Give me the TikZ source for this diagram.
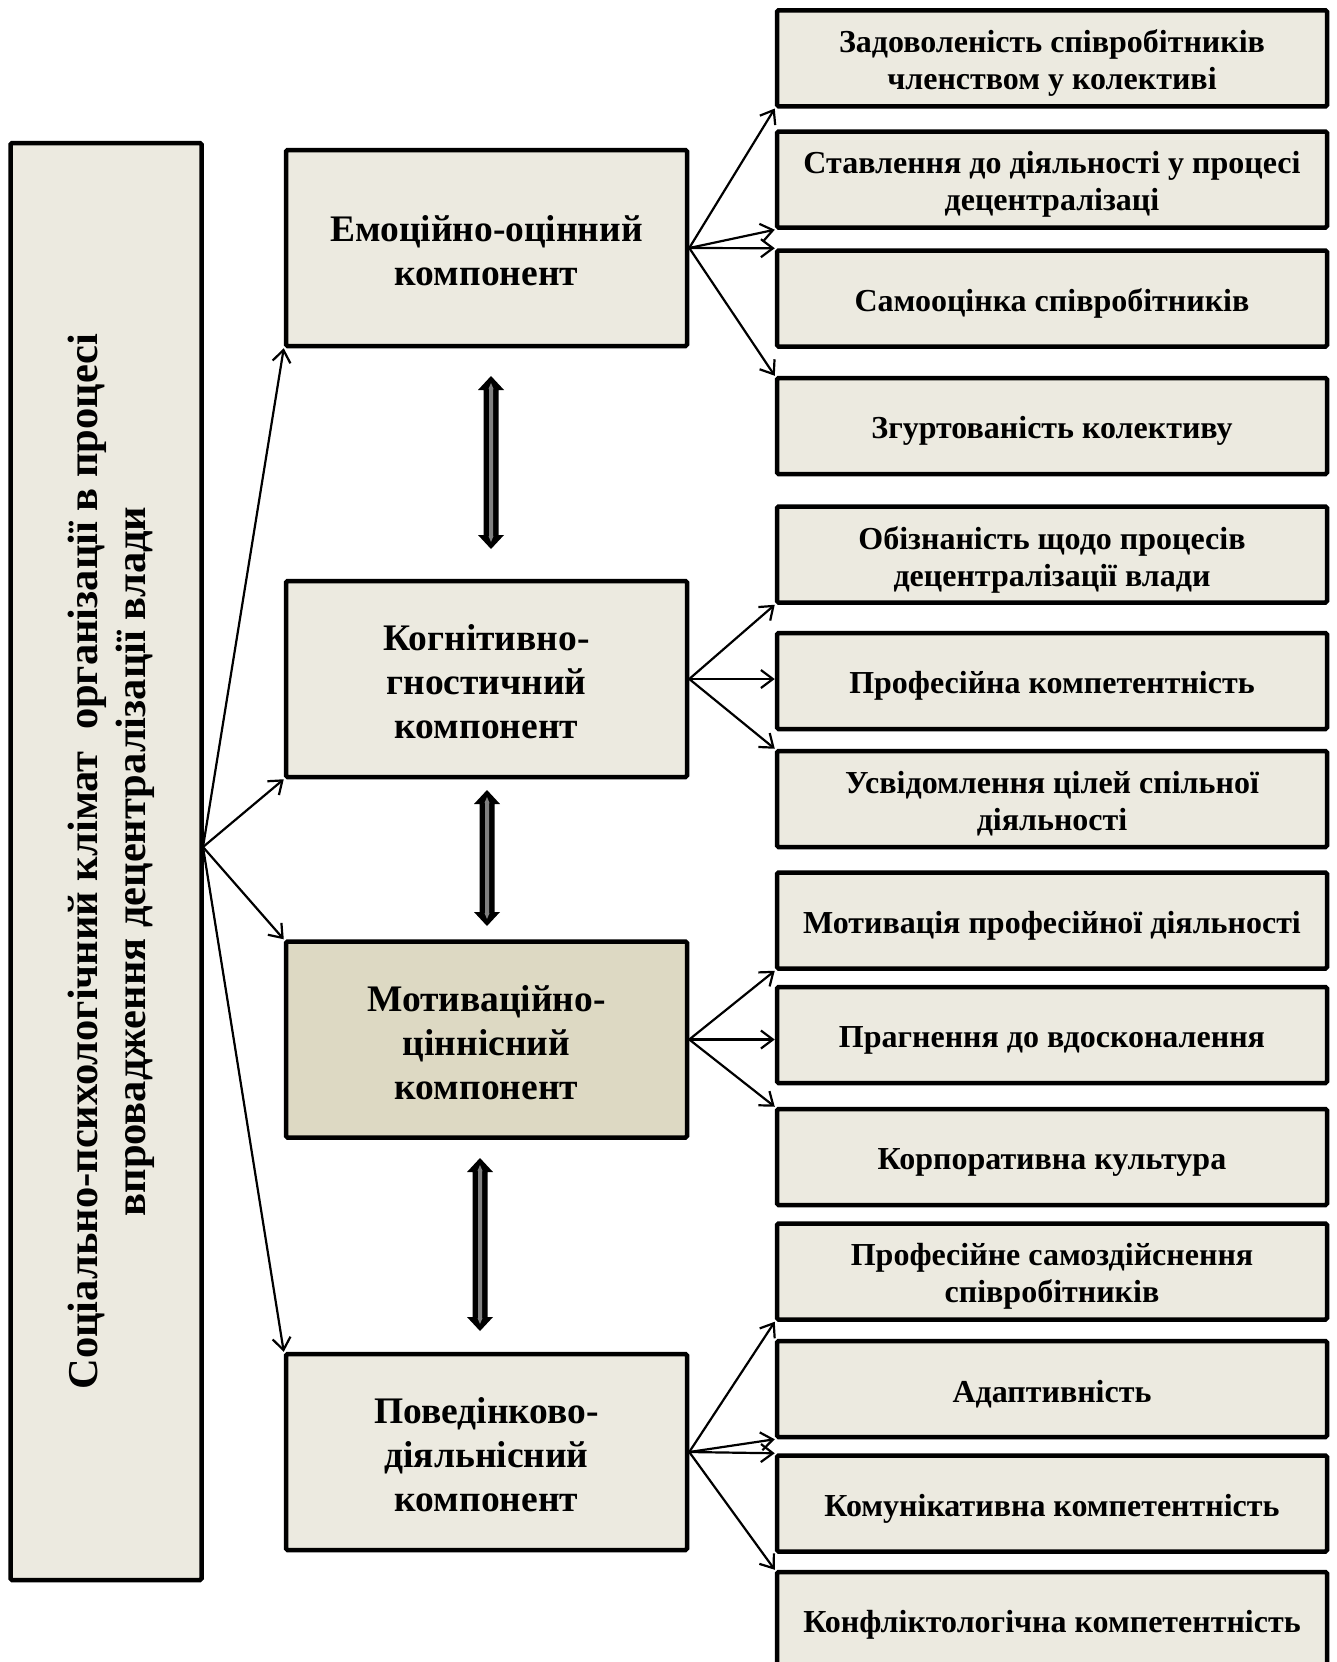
\documentclass[tikz,border=0pt]{standalone}
\usepackage{fontspec}
\setmainfont{Liberation Serif}
\usetikzlibrary{arrows.meta}
\definecolor{boxfill}{RGB}{236,234,224}
\definecolor{boxfilldark}{RGB}{221,217,195}
\definecolor{arrgray}{RGB}{128,128,128}
\newcommand\DblArr[3]{%
  \fill[black] (#1,#2) -- (#1+13,#2+14) -- (#1+7.5,#2+14) -- (#1+7.5,#3-14) -- (#1+13,#3-14) -- (#1,#3)
     -- (#1-13,#3-14) -- (#1-7.5,#3-14) -- (#1-7.5,#2+14) -- (#1-13,#2+14) -- cycle;
  \fill[arrgray] (#1,#2+7) -- (#1+2.5,#2+13) -- (#1+2,#2+13) -- (#1+2,#3-13) -- (#1+2.5,#3-13) -- (#1,#3-7)
     -- (#1-2.5,#3-13) -- (#1-2,#3-13) -- (#1-2,#2+13) -- (#1-2.5,#2+13) -- cycle;}
% item box: name, centre y, text
\newcommand\ItemBox[3]{%
  \node[item] (#1) at (1052,#2) {};
  \node[itemtext, yshift=-5pt] (#1t) at (#1.center) {#3};}
% component box: name, centre y, fill, text
\newcommand\MidBox[4]{%
  \node[mid, fill=#3] (#1) at (486.5,#2) {};
  \node[midtext, yshift=-3pt] (#1t) at (#1.center) {#4};}
\begin{document}
\begin{tikzpicture}[x=1pt,y=-1pt,
  box/.style={draw=black, line width=4.5pt, fill=boxfill, rounded corners=1.5pt, inner sep=0pt},
  mid/.style={box, minimum width=401pt, minimum height=196pt},
  midtext/.style={align=center, inner sep=0pt, font=\fontsize{37.5}{44}\selectfont\bfseries},
  item/.style={box, minimum width=550pt, minimum height=96pt},
  itemtext/.style={align=center, inner sep=0pt, font=\fontsize{32}{37}\selectfont\bfseries},
  conn/.style={line width=2.2pt, -{Straight Barb[length=12pt,width=18pt]}},
]
\useasboundingbox (0,0) rectangle (1336,1662);

% left box
\node[box, minimum width=191pt, minimum height=1437pt] (left) at (106,861.5) {};
\node[rotate=90, align=center, font=\fontsize{42.5}{48}\selectfont\bfseries] (lefttext) at (111,861.5)
  {Соціально-психологічний клімат~ організації в процесі\\ впровадження децентралізації влади};

% middle boxes
\MidBox{m1}{248}{boxfill}{Емоційно-оцінний\\ компонент}
\MidBox{m2}{679}{boxfill}{Когнітивно-\\ гностичний\\ компонент}
\MidBox{m3}{1039.5}{boxfilldark}{Мотиваційно-\\ ціннісний\\ компонент}
\MidBox{m4}{1452}{boxfill}{Поведінково-\\ діяльнісний\\ компонент}

% right boxes
\ItemBox{r1}{58.3}{Задоволеність співробітників\\ членством у колективі}
\ItemBox{r2}{179.5}{Ставлення до діяльності у процесі\\ децентралізаці}
\ItemBox{r3}{298.5}{Самооцінка співробітників}
\ItemBox{r4}{426}{Згуртованість колективу}
\ItemBox{r5}{554.5}{Обізнаність щодо процесів\\ децентралізації влади}
\ItemBox{r6}{681}{Професійна компетентність}
\ItemBox{r7}{799}{Усвідомлення цілей спільної\\ діяльності}
\ItemBox{r8}{920.5}{Мотивація професійної діяльності}
\ItemBox{r9}{1035}{Прагнення до вдосконалення}
\ItemBox{r10}{1157}{Корпоративна культура}
\ItemBox{r11}{1271.5}{Професійне самоздійснення\\ співробітників}
\ItemBox{r12}{1389}{Адаптивність}
\ItemBox{r13}{1503.5}{Комунікативна компетентність}
\ItemBox{r14}{1620}{Конфліктологічна компетентність}

% connectors from left box
\coordinate (src) at (203,847);
\draw[conn] (src) -- (m1.south west);
\draw[conn] (src) -- (m2.south west);
\draw[conn] (src) -- (m3.north west);
\draw[conn] (src) -- (m4.north west);

% connectors to right boxes
\draw[conn] (m1.east) -- (r1.south west);
\draw[conn] (m1.east) -- (r2.south west);
\draw[conn] (m1.east) -- (r3.north west);
\draw[conn] (m1.east) -- (r4.north west);

\draw[conn] (m2.east) -- (r5.south west);
\draw[conn] (m2.east) -- (m2.east -| r6.west);
\draw[conn] (m2.east) -- (r7.north west);

\draw[conn] (m3.east) -- (r8.south west);
\draw[conn] (m3.east) -- (m3.east -| r9.west);
\draw[conn] (m3.east) -- (r10.north west);

\draw[conn] (m4.east) -- (r11.south west);
\draw[conn] (m4.east) -- (r12.south west);
\draw[conn] (m4.east) -- (r13.north west);
\draw[conn] (m4.east) -- (r14.north west);

% double arrows between components
\DblArr{491}{376}{549}
\DblArr{487}{790}{926}
\DblArr{480}{1158}{1331}
\end{tikzpicture}
\end{document}
